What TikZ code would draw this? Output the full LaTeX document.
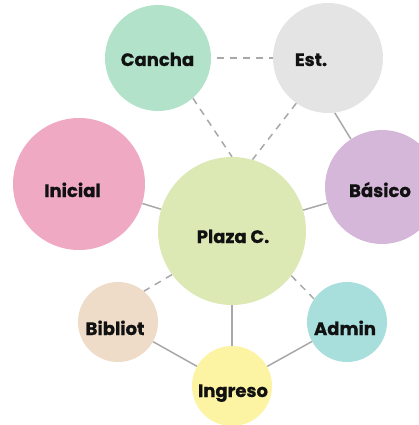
\documentclass[tikz,border=0pt]{standalone}
\usepackage{fontspec}
\setmainfont{Poppins}[BoldFeatures={FakeBold=0.8}]
\usetikzlibrary{backgrounds}
\definecolor{cCancha}{HTML}{B3E2CA}
\definecolor{cEst}{HTML}{E4E4E4}
\definecolor{cInicial}{HTML}{F0A9C3}
\definecolor{cBasico}{HTML}{D5B7D9}
\definecolor{cPlaza}{HTML}{DCE9B5}
\definecolor{cBibliot}{HTML}{EEDCC9}
\definecolor{cAdmin}{HTML}{A8DEDC}
\definecolor{cIngreso}{HTML}{FCF3A3}
\definecolor{cLine}{HTML}{A8A8A8}
\definecolor{cText}{HTML}{111111}
\tikzset{
  blob/.style={circle, draw=none, inner sep=0pt, minimum size=#1},
  lbl/.style={anchor=base, inner sep=0pt, font=\fontsize{18}{20}\selectfont\bfseries, text=cText},
  solidlink/.style={draw=cLine, line width=1.5pt},
  dashlink/.style={draw=cLine, line width=1.5pt, dash pattern=on 7pt off 6pt},
}
\begin{document}
\begin{tikzpicture}[x=1pt,y=-1pt]
\useasboundingbox (0,0) rectangle (419,425);
\begin{scope}
\clip (0,0) rectangle (419,425);
\node[blob=106pt, fill=cCancha] (can) at (158,58) {};
\node[blob=110pt, fill=cEst] (est) at (328,58) {};
\node[blob=132pt, fill=cInicial] (ini) at (79,184) {};
\node[blob=114pt, fill=cBasico] (bas) at (382,187) {};
\node[blob=148pt, fill=cPlaza] (pla) at (232,231) {};
\node[blob=80pt, fill=cBibliot] (bib) at (118,322) {};
\node[blob=80pt, fill=cAdmin] (adm) at (347,322) {};
\node[blob=80pt, fill=cIngreso] (ing) at (232,386) {};

\node[lbl] (tcan) at (157.5,66) {Cancha};
\node[lbl] (test) at (311,66) {Est.};
\node[lbl] (tini) at (72.5,197) {Inicial};
\node[lbl] (tbas) at (380,197) {Básico};
\node[lbl] (tpla) at (233,243) {Plaza C.};
\node[lbl] (tbib) at (115,335) {Bibliot};
\node[lbl] (tadm) at (345,335) {Admin};
\node[lbl] (ting) at (233,397) {Ingreso};

\begin{scope}[on background layer]
\path[dashlink, shorten <=6pt] (can.east) -- (est.west);
\path[dashlink] (can.-49) -- (pla.90);
\path[dashlink] (est.-125) -- (pla.74);
\path[dashlink] (pla.-144) -- (bib.50);
\path[dashlink] (pla.-37) -- (adm.145);
\path[solidlink] (est.-83) -- (bas.123);
\path[solidlink] (ini) -- (pla);
\path[solidlink] (pla) -- (bas);
\path[solidlink] (pla) -- (ing);
\path[solidlink] (bib) -- (ing);
\path[solidlink] (adm) -- (ing);
\end{scope}
\end{scope}
\end{tikzpicture}
\end{document}
